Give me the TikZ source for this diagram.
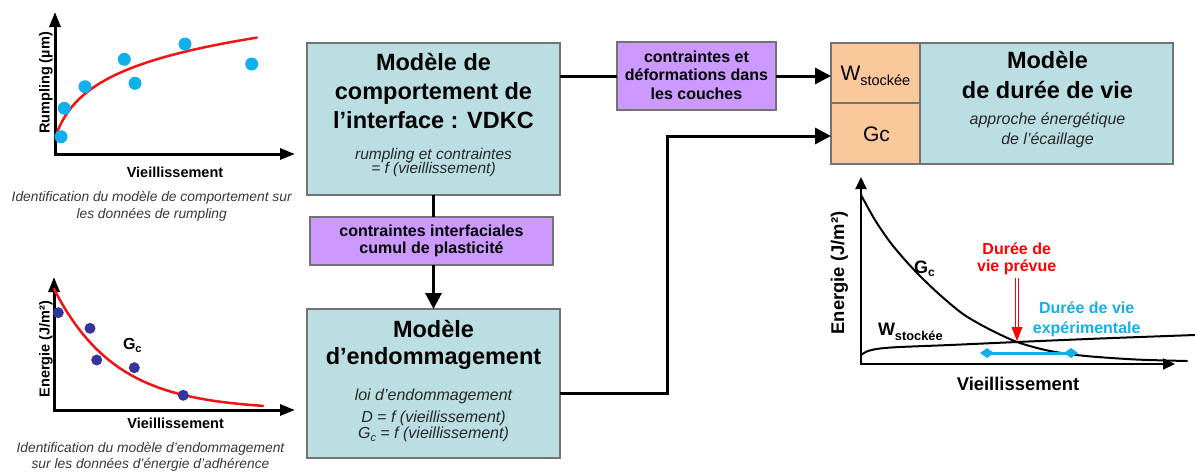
\documentclass[tikz,border=0pt]{standalone}
\usepackage{fontspec}
\setmainfont{Liberation Sans}
\usetikzlibrary{arrows.meta,calc}
\newcommand{\myfs}[1]{\fontsize{#1}{#1}\selectfont}
\definecolor{boxblue}{RGB}{186,222,226}
\definecolor{boxpurple}{RGB}{204,153,255}
\definecolor{boxorange}{RGB}{250,200,155}
\definecolor{boxedge}{RGB}{115,115,115}
\definecolor{ptcyan}{RGB}{16,176,236}
\definecolor{ptnavy}{RGB}{52,52,154}
\definecolor{curvered}{RGB}{240,20,20}
\definecolor{txtgray}{RGB}{40,40,40}
\definecolor{capgray}{RGB}{55,55,55}
\definecolor{expblue}{RGB}{20,174,232}
\begin{document}
\begin{tikzpicture}[x=1pt,y=-1pt,
  every node/.style={inner sep=0pt,outer sep=0pt},
  panel/.style={draw=boxedge,line width=1.3pt,anchor=north west},
  bluebox/.style={panel,fill=boxblue},
  purplebox/.style={panel,fill=boxpurple},
  orangebox/.style={panel,fill=boxorange},
  txt/.style={anchor=base},
  title/.style={txt,font=\myfs{23.5}\bfseries},
  note/.style={txt,font=\myfs{16}\itshape,text=txtgray},
  tag/.style={txt,font=\myfs{16}\bfseries},
  axlabel/.style={txt,font=\myfs{14.5}\bfseries},
  biglabel/.style={txt,font=\myfs{18.4}\bfseries},
  caption/.style={txt,font=\myfs{13.8}\itshape,text=capgray},
  conn/.style={line width=3pt},
  bigtip/.style={-{Triangle[length=16pt,width=16pt]}},
  axis/.style={line width=3pt,line join=miter,>={Triangle[length=15pt,width=11pt]},<->},
  axisthin/.style={line width=2pt,line join=miter,>={Triangle[length=12pt,width=11pt]},<->},
  fitred/.style={curvered,line width=2.5pt,line cap=round},
  fitblack/.style={black,line width=2pt,line cap=round},
]
\useasboundingbox (0,0) rectangle (1195,472);

% ---------- central boxes ----------
\node[bluebox,minimum width=253pt,minimum height=152pt] (vdkc) at (307,43) {};
\node[title] (vdkcA) at (433.5,70) {Modèle de};
\node[title] (vdkcB) at (433.5,99.5) {comportement de};
\node[title] (vdkcC) at (433.5,128.5) {l’interface : VDKC};
\node[note,font=\myfs{15.5}\itshape] (vdkcD) at (433.5,159) {rumpling et contraintes};
\node[note,font=\myfs{15.5}\itshape] (vdkcE) at (433.5,173.5) {= f (vieillissement)};

\node[purplebox,minimum width=243pt,minimum height=48pt] (ptwo) at (310,217) {};
\node[tag] (ptwoA) at (431.5,236) {contraintes interfaciales};
\node[tag] (ptwoB) at (431.5,253) {cumul de plasticité};

\node[bluebox,minimum width=253pt,minimum height=149pt] (endo) at (307,309) {};
\node[title] (endoA) at (433.5,337) {Modèle};
\node[title] (endoB) at (433.5,364) {d’endommagement};
\node[note] (endoC) at (433.5,400.7) {loi d’endommagement};
\node[note] (endoD) at (433.5,422) {D = f (vieillissement)};
\node[note] (endoE) at (433.5,438) {G\raisebox{-3pt}{\myfs{11}c} = f (vieillissement)};

\node[purplebox,minimum width=159pt,minimum height=68pt] (pone) at (617,42) {};
\node[tag] (poneA) at (696.5,62) {contraintes et};
\node[tag] (poneB) at (696.5,80.7) {déformations dans};
\node[tag] (poneC) at (696.5,99.4) {les couches};

\node[orangebox,minimum width=89pt,minimum height=60pt] (wcell) at (831,43) {};
\node[orangebox,minimum width=89pt,minimum height=61pt] (gccell) at (831,103) {};
\node[bluebox,minimum width=253pt,minimum height=121pt] (life) at (920,43) {};
\node[txt,anchor=base west,font=\myfs{21}] (wlab) at (840.5,80) {W\raisebox{-5pt}{\myfs{14.5}stockée}};
\node[txt,font=\myfs{21}] (gclab) at (876.5,141.7) {Gc};
\node[title] (lifeA) at (1047.5,68.3) {Modèle};
\node[title] (lifeB) at (1047.5,98.3) {de durée de vie};
\node[note] (lifeC) at (1047.5,124) {approche énergétique};
\node[note] (lifeD) at (1047.5,144) {de l’écaillage};

% ---------- connectors ----------
\draw[conn] (pone.west) -- (pone.west -| vdkc.east);
\draw[conn,bigtip] (pone.east) -- (pone.east -| wcell.west);
\draw[conn] (vdkc.south) -- (vdkc.south |- ptwo.north);
\draw[conn,bigtip] (ptwo.south -| endo.north) -- (endo.north);
\coordinate (bend) at (667,393);
\draw[conn,bigtip,line join=miter] ([yshift=-9.5pt]endo.east) -- (bend) |- ([yshift=-2.5pt]gccell.west);

% ---------- plot 1 : rumpling ----------
\draw[axis] (55,12) -- (55,154) -- (295,154);
\draw[fitred] plot[domain=56.7:256.7,samples=80] (\x,{133.3-34.2*ln(1+(\x-56.7)/13)});
\foreach \p in {(61,136.7),(64.3,108.3),(85,86.7),(124.3,59.3),(135,83.3),(185,44),(251.7,64)}
  \fill[ptcyan] \p circle (6.5pt);
\node[axlabel,rotate=90] (rumpy) at (49.5,83) {Rumpling (µm)};
\node[axlabel] (rumpx) at (175,177.3) {Vieillissement};
\node[caption] (rumpcA) at (151.7,201.7) {Identification du modèle de comportement sur};
\node[caption] (rumpcB) at (151.7,218.3) {les données de rumpling};

% ---------- plot 2 : Gc ----------
\draw[axis] (54,277) -- (54,410) -- (295,410);
\draw[fitred] plot[domain=54:263,samples=80] (\x,{410-121*exp(-(\x-54)/62)});
\foreach \p in {(58.3,312.7),(90,328.3),(96.7,360),(134.3,367.7),(183.3,395.3)}
  \fill[ptnavy] \p circle (5.5pt);
\node[txt,anchor=base west,font=\myfs{16}\bfseries] (gctwo) at (123,349.3) {G\raisebox{-3pt}{\myfs{11}c}};
\node[axlabel,rotate=90] (gcy) at (49.5,349) {Energie (J/m²)};
\node[axlabel] (gcx) at (175.7,428.3) {Vieillissement};
\node[caption] (gccA) at (150.5,452.3) {Identification du modèle d’endommagement};
\node[caption] (gccB) at (150.5,468.3) {sur les données d’énergie d’adhérence};

% ---------- plot 3 : lifetime ----------
\draw[axisthin] (861,177) -- (861,364) -- (1175,364);
\draw[fitblack] plot[smooth] coordinates {(861,195) (875,220) (890,242) (905,260) (920,276) (940,295) (963,314) (987,328) (1017,342) (1050,351) (1086,356) (1136,359.5) (1187,361)};
\draw[fitblack] plot[smooth] coordinates {(861,355) (868,351) (880,348.5) (900,347) (950,345) (1017,342) (1100,338.5) (1195,335)};
\node[biglabel,rotate=90] (ey) at (844,273) {Energie (J/m²)};
\node[biglabel] (ex) at (1018,390) {Vieillissement};
\node[txt,anchor=base west,font=\myfs{18}\bfseries] (gcthree) at (914,273) {G\raisebox{-3pt}{\myfs{12}c}};
\node[txt,anchor=base west,font=\myfs{18}\bfseries] (wthree) at (878,335) {W\raisebox{-5.7pt}{\myfs{12.8}stockée}};
\node[tag,text=red] (prevA) at (1016.7,254) {Durée de};
\node[tag,text=red] (prevB) at (1016.7,271.7) {vie prévue};
\coordinate (rtop) at (1017,278);
\coordinate (rneck) at (1017,327);
\coordinate (rtip) at (1017,341);
\draw[draw=red,double=white,double distance=2pt,line width=1.2pt] (rtop) -- (rneck);
\fill[red] ($(rneck)+(-5.5,0)$) -- ($(rneck)+(5.5,0)$) -- (rtip) -- cycle;
\node[tag,text=expblue] (expA) at (1086.7,313.3) {Durée de vie};
\node[tag,text=expblue] (expB) at (1086.7,333.3) {expérimentale};
\coordinate (bl) at (980,353);
\coordinate (br) at (1078,353);
\draw[expblue,line width=3pt,{Diamond[length=14pt,width=10pt]}-{Diamond[length=14pt,width=10pt]}] (bl) -- (br);
\end{tikzpicture}
\end{document}
